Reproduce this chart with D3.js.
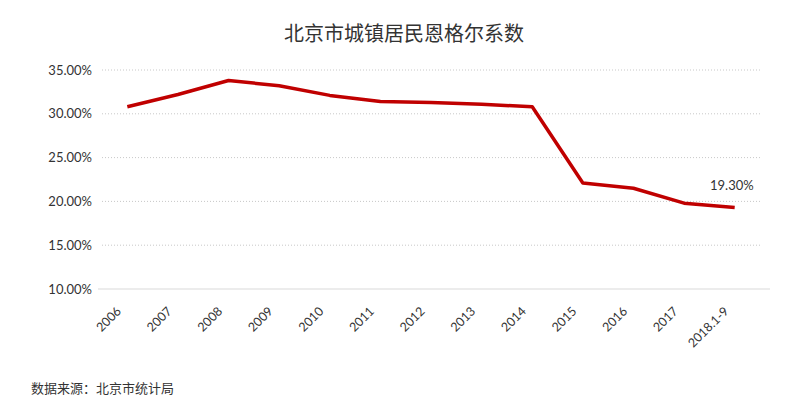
<!DOCTYPE html>
<html>
<head>
<meta charset="utf-8">
<script src="https://cdn.jsdelivr.net/npm/d3@7"></script>
<style>
  body { margin: 0; background: #fff; }
  svg text { font-family: Lato, "Noto Sans", sans-serif; fill: #333; }
  .cjk { font-family: "Noto Sans CJK SC", sans-serif; }
</style>
</head>
<body>
<div id="chart"></div>
<script>
// data
const years = ["2006", "2007", "2008", "2009", "2010", "2011", "2012", "2013", "2014", "2015", "2016", "2017", "2018.1-9"];
const engel = [30.8, 32.2, 33.8, 33.2, 32.1, 31.4, 31.3, 31.1, 30.8, 22.1, 21.5, 19.8, 19.3];
const yTicks = [10, 15, 20, 25, 30, 35];

const W = 800, H = 413;
const margin = {top: 70, right: 40, bottom: 124, left: 102};
const width = W - margin.left - margin.right;
const height = H - margin.top - margin.bottom;

const svg = d3.select("#chart").append("svg")
    .attr("width", W)
    .attr("height", H);

const g = svg.append("g")
    .attr("transform", "translate(" + margin.left + "," + margin.top + ")");

// scales
const x = d3.scalePoint()
    .domain(years)
    .range([0, width])
    .padding(0.5);

const y = d3.scaleLinear()
    .domain([10, 35])
    .range([height, 0]);

// dotted gridlines
g.append("g")
    .selectAll("line")
    .data(yTicks.filter(d => d > 10))
    .join("line")
    .attr("x1", 0)
    .attr("x2", width)
    .attr("y1", d => y(d))
    .attr("y2", d => y(d))
    .attr("stroke", "#c8c8c8")
    .attr("stroke-width", 1)
    .attr("stroke-dasharray", "1,2");

// baseline
g.append("line")
    .attr("x1", -4)
    .attr("x2", width + 10)
    .attr("y1", height)
    .attr("y2", height)
    .attr("stroke", "#d9d9d9")
    .attr("stroke-width", 1);

// y axis labels
const yAxis = g.append("g")
    .call(d3.axisLeft(y).tickValues(yTicks).tickSize(0).tickPadding(10).tickFormat(d => d.toFixed(2) + "%"));
yAxis.select(".domain").remove();
yAxis.selectAll("text")
    .style("font-size", "13px")
    .attr("fill", "#333");

// x axis labels
const xAxis = g.append("g")
    .attr("transform", "translate(0," + height + ")")
    .call(d3.axisBottom(x).tickSize(0).tickPadding(0));
xAxis.select(".domain").remove();
xAxis.selectAll("text")
    .attr("transform", "translate(-9,20) rotate(-45)")
    .attr("dy", "0.35em")
    .style("text-anchor", "end")
    .style("font-size", "12.5px")
    .attr("fill", "#333");

// line
const line = d3.line()
    .x((d, i) => x(years[i]))
    .y(d => y(d));

g.append("path")
    .datum(engel)
    .attr("fill", "none")
    .attr("stroke", "#c00000")
    .attr("stroke-width", 3.5)
    .attr("stroke-linejoin", "round")
    .attr("d", line);

// last value label
const last = engel.length - 1;
g.append("text")
    .attr("x", x(years[last]) + 19)
    .attr("y", y(engel[last]) - 18)
    .attr("text-anchor", "end")
    .style("font-size", "13px")
    .text(engel[last].toFixed(2) + "%");

// title
svg.append("text")
    .attr("class", "cjk")
    .attr("x", W / 2 + 4)
    .attr("y", 41)
    .attr("text-anchor", "middle")
    .style("font-size", "20px")
    .text("北京市城镇居民恩格尔系数");

// source
svg.append("text")
    .attr("class", "cjk")
    .attr("x", 31)
    .attr("y", 393)
    .style("font-size", "13px")
    .text("数据来源：北京市统计局");
</script>
</body>
</html>
